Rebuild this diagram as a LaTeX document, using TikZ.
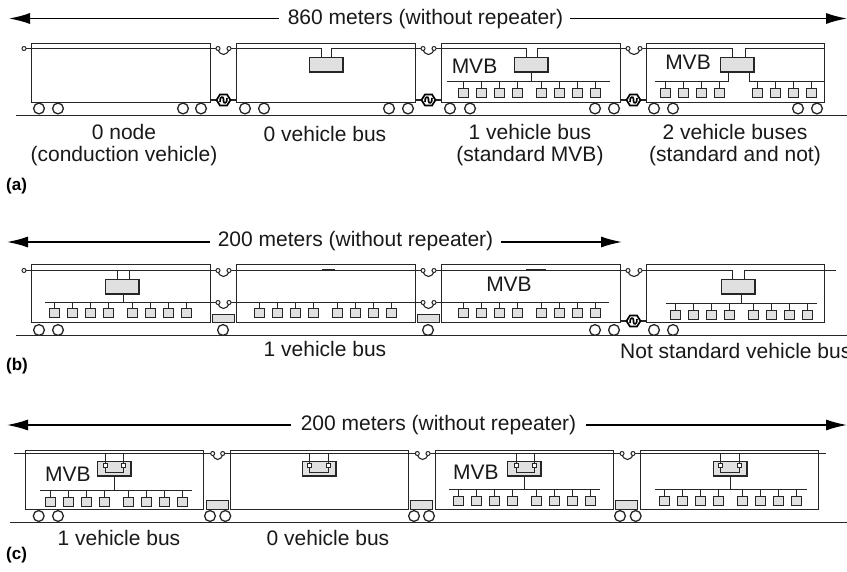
\documentclass[tikz,border=0pt]{standalone}
\usepackage{fontspec}
\setmainfont{Liberation Sans}
\usetikzlibrary{arrows.meta}
\tikzset{
  ln/.style={draw=black!85,line width=1.6pt,line cap=butt},
  thin ln/.style={draw=black!85,line width=1.1pt},
  ecu/.style={ln,fill=black!12},
  dev/.style={ln,fill=black!12},
  wheel/.style={draw=black!85,line width=1.3pt,fill=white},
  ring/.style={draw=black!85,line width=1pt,fill=white},
  lbl/.style={font=\fontsize{21}{22.5}\selectfont,text=black!90,inner sep=0pt,align=center},
  tag/.style={font=\fontsize{17}{20}\selectfont\bfseries,text=black,inner sep=0pt,anchor=west},
  span/.style={draw=black,line width=1.4pt,-{Latex[length=21pt,width=11pt]}},
}
\newcommand{\carbody}[4]{\draw[ln] (#1,#2) rectangle (#4,#3);}
\newcommand{\wheels}[2]{\foreach \wx in {#2}{\draw[wheel] (\wx,#1) circle (5.4);}}
\newcommand{\devices}[3]{\foreach \dx in {#3}{
  \draw[ln] (\dx+5,#1) -- (\dx+5,#2);
  \draw[dev] (\dx,#2) rectangle +(10,9);}}
\newcommand{\gateway}[5]{
  \draw[ln] (#3,#5) -- (#3,#2) (#4,#5) -- (#4,#2);
  \draw[ecu] (#1,#2) rectangle +(33.5,14.5);}
\newcommand{\jumper}[3]{
  \draw[thin ln] (#1,#3) .. controls (#1+1,#3+8) and (#2-1,#3+8) .. (#2,#3);
  \draw[ring] (#1,#3) circle (2); \draw[ring] (#2,#3) circle (2);}
\newcommand{\coupler}[3]{
  \draw[ln] (#1,#3) -- (#2,#3);
  \begin{scope}[shift={({(#1+#2)/2},#3)}]
  \draw[draw=black,line width=1.7pt,fill=white] (-7,0) -- (-3.5,-5.5) -- (3.5,-5.5) -- (7,0) -- (3.5,5.5) -- (-3.5,5.5) -- cycle;
  \draw[draw=black,line width=1.6pt] (-3.5,2) .. controls (-4,-4) and (0,-4) .. (0,-1) -- (0,1) .. controls (0,4) and (4,4) .. (3.5,-2);
  \end{scope}}
\newcommand{\flatbox}[3]{\draw[ecu] (#1,#2) rectangle +(22,#3);}
\begin{document}
\begin{tikzpicture}[x=1pt,y=-1pt]
\useasboundingbox (0,0) rectangle (847,572);
\fill[white] (0,0) rectangle (847,572);
\clip (0,0) rectangle (847,572);

%% ---------- (a) ----------
\node[lbl,anchor=center] (ta) at (425.5,19) {860 meters (without repeater)};
\coordinate (aL) at (9,18.5); \coordinate (aR) at (847,18.5);
\draw[span] (ta.west|-aL) ++(-9,0) -- (aL);
\draw[span] (ta.east|-aR) ++(7,0) -- (aR);
\draw[ln] (16,115.5) -- (847,115.5);
\carbody{31.5}{43.5}{102.5}{210.5}
\carbody{236.5}{43.5}{102.5}{415.5}
\carbody{441.5}{43.5}{102.5}{620.5}
\carbody{646.5}{43.5}{102.5}{824.5}
\wheels{108.5}{39,58,183,201,245,264,389,408,450,470,595,614,654,673,798,817}
\draw[ln] (24,48.5) -- (218,48.5) (229,48.5) -- (321.5,48.5) (331.5,48.5) -- (423,48.5)
          (434,48.5) -- (526.5,48.5) (537.5,48.5) -- (628,48.5) (640,48.5) -- (732.5,48.5) (745.5,48.5) -- (824,48.5);
\draw[ring] (24,48.5) circle (2);
\jumper{218}{229}{48.5}\jumper{423}{434}{48.5}\jumper{628}{640}{48.5}
\coupler{210.5}{236.5}{100}\coupler{415.5}{441.5}{100}\coupler{620.5}{646.5}{100}
\gateway{309.5}{57.5}{321.5}{331.5}{48.5}
\gateway{514.5}{57.5}{526.5}{537.5}{48.5}
\gateway{720.5}{57.5}{732.5}{745.5}{48.5}
\node[lbl] (m1) at (474.5,66) {MVB};
\draw[ln] (447,81.5) -- (610,81.5) (531.5,72) -- (531.5,81.5);
\devices{81.5}{88.5}{458.5,476.5,494.5,512.5,536.5,554.5,572.5,590.5}
\node[lbl] (m2) at (688,62) {MVB};
\draw[ln] (655,81.5) -- (728.5,81.5) -- (728.5,72) (749.5,72) -- (749.5,81.5) -- (824,81.5);
\devices{81.5}{88.5}{660.5,678.5,696.5,714.5,752.5,770.5,788.5,806.5}
\node[lbl] (a1) at (124,145) {0 node\\(conduction vehicle)};
\node[lbl] (a2) at (325,134) {0 vehicle bus};
\node[lbl] (a3) at (530,145) {1 vehicle bus\\(standard MVB)};
\node[lbl] (a4) at (735,145) {2 vehicle buses\\(standard and not)};
\node[tag] (la) at (6,186) {(a)};

%% ---------- (b) ----------
\node[lbl] (tb) at (355.5,241) {200 meters (without repeater)};
\coordinate (bL) at (7,242); \coordinate (bR) at (622,242);
\draw[span] (tb.west|-bL) ++(-8,0) -- (bL);
\draw[span] (tb.east|-bR) ++(8,0) -- (bR);
\draw[ln] (16,335.5) -- (847,335.5);
\carbody{31.5}{264.5}{322.5}{210.5}
\carbody{236.5}{264.5}{322.5}{415.5}
\carbody{441.5}{264.5}{322.5}{620.5}
\carbody{646.5}{264.5}{322.5}{824.5}
\wheels{330}{39,58,223,428,595,614,654,673}
\flatbox{212.5}{314.5}{8}\flatbox{417.5}{314.5}{8}
\draw[ln] (24,270.5) -- (218,270.5) (229,270.5) -- (423,270.5) (434,270.5) -- (628,270.5)
  (640,270.5) -- (732.5,270.5) (744.5,270.5) -- (836,270.5);
\draw[ln,line width=2pt] (322,270.5) -- (335,270.5) (526,270.5) -- (546,270.5);
\draw[ring] (24,270.5) circle (2);
\jumper{218}{229}{270.5}\jumper{423}{434}{270.5}\jumper{628}{640}{270.5}
\draw[ln] (45,302.5) -- (218,302.5) (229,302.5) -- (423,302.5) (434,302.5) -- (609,302.5);
\jumper{218}{229}{302.5}\jumper{423}{434}{302.5}
\gateway{105.5}{279.5}{117.5}{129.5}{270.5}
\draw[ln] (123.5,294) -- (123.5,302.5);
\devices{302.5}{308.5}{49.5,67.5,85.5,103.5,127.5,145.5,163.5,181.5}
\devices{302.5}{308.5}{254.5,272.5,290.5,308.5,332.5,350.5,368.5,386.5}
\devices{302.5}{308.5}{458.5,476.5,494.5,512.5,536.5,554.5,572.5,590.5}
\node[lbl] (m3) at (509,284.5) {MVB};
\coupler{620.5}{646.5}{321}
\gateway{721.5}{279.5}{732.5}{744.5}{270.5}
\draw[ln] (741.5,293.5) -- (741.5,303.5) (665.5,303.5) -- (817,303.5);
\devices{303.5}{310.5}{670.5,688.5,706.5,724.5,748.5,766.5,784.5,802.5}
\node[lbl] (b1) at (325,349) {1 vehicle bus};
\node[lbl,anchor=west] (b2) at (620,351) {Not standard vehicle bus};
\node[tag] (lb) at (6,366) {(b)};

%% ---------- (c) ----------
\node[lbl] (tc) at (438.5,425) {200 meters (without repeater)};
\coordinate (cL) at (7,425); \coordinate (cR) at (847,425);
\draw[span] (tc.west|-cL) ++(-10,0) -- (cL);
\draw[span] (tc.east|-cR) ++(10,0) -- (cR);
\draw[ln] (10,522.5) -- (847,522.5);
\carbody{25.5}{450.5}{509.5}{203.5}
\carbody{230.5}{450.5}{509.5}{408.5}
\carbody{435.5}{450.5}{509.5}{613.5}
\carbody{640.5}{450.5}{509.5}{818.5}
\wheels{516}{38.7,58,210,225.3,414,429,620,635.7}
\flatbox{206.5}{500.5}{9}\flatbox{410.5}{500.5}{9}\flatbox{615.5}{500.5}{9}
\draw[ln] (14,453.5) -- (212.7,453.5) (222.7,453.5) -- (417.3,453.5) (428,453.5) -- (622,453.5) (633,453.5) -- (826,453.5);
\jumper{212.7}{222.7}{453.5}\jumper{417.3}{428}{453.5}\jumper{622}{633}{453.5}
\foreach \bx/\sa/\sb in {97.5/105.5/123.5,302.5/309.5/328.5,507.5/516.5/534.5,713.5/720.5/739.5}{
  \draw[ecu] (\bx,461.5) rectangle +(33.5,14.5);
  \draw[ln] (\sa,453.5) -- (\sa,465) (\sb,453.5) -- (\sb,465);
  \draw[thin ln] (\sa,465) -- (\sa,472.5) -- (\sb,472.5) -- (\sb,465);
  \draw[thin ln,fill=white] (\sa-1.8,463.7) rectangle +(3.6,3.6);
  \draw[thin ln,fill=white] (\sb-1.8,463.7) rectangle +(3.6,3.6);
}
\node[lbl] (m4) at (68,474) {MVB};
\draw[ln] (39.5,490.5) -- (191.5,490.5) (114.5,476) -- (114.5,490.5);
\devices{490.5}{497.5}{45.5,63.5,81.5,99.5,123.5,141.5,159.5,177.5}
\node[lbl] (m5) at (476,472) {MVB};
\draw[ln] (448.7,489.5) -- (600.3,489.5) (524.5,476) -- (524.5,489.5);
\devices{489.5}{496.5}{453.5,471.5,489.5,507.5,531.5,549.5,567.5,585.5}
\draw[ln] (655,489.5) -- (806.7,489.5) (730.5,476) -- (730.5,489.5);
\devices{489.5}{496.5}{659.5,677.5,695.5,713.5,737.5,755.5,773.5,791.5}
\node[lbl] (c1) at (119,538) {1 vehicle bus};
\node[lbl] (c2) at (328,538) {0 vehicle bus};
\node[tag] (lc) at (6,555) {(c)};
\end{tikzpicture}
\end{document}
